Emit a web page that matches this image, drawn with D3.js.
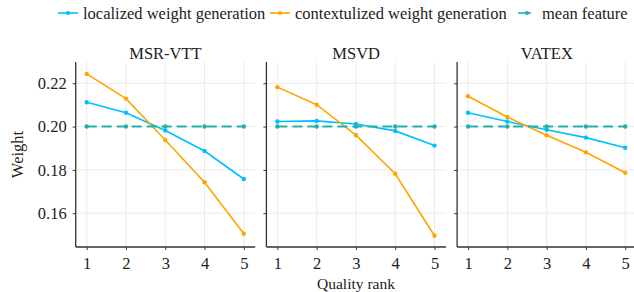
<!DOCTYPE html>
<html>
<head>
<meta charset="utf-8">
<script src="https://cdn.jsdelivr.net/npm/d3@7"></script>
<style>
  body { margin: 0; background: #fff; }
</style>
</head>
<body>
<div id="chart"></div>
<script>
// data
var datasets = ["MSR-VTT", "MSVD", "VATEX"];
var ranks = [1, 2, 3, 4, 5];
var seriesNames = ["localized weight generation", "contextulized weight generation", "mean feature"];
var localized = [
  [0.2112, 0.2064, 0.1982, 0.1887, 0.1758],
  [0.2023, 0.2026, 0.2012, 0.1980, 0.1912],
  [0.2064, 0.2023, 0.1985, 0.1949, 0.1902]
];
var contextual = [
  [0.2243, 0.2129, 0.1938, 0.1743, 0.1505],
  [0.2182, 0.2101, 0.1960, 0.1782, 0.1496],
  [0.2140, 0.2044, 0.1960, 0.1881, 0.1787]
];
var meanFeature = [
  [0.2, 0.2, 0.2, 0.2, 0.2],
  [0.2, 0.2, 0.2, 0.2, 0.2],
  [0.2, 0.2, 0.2, 0.2, 0.2]
];
var yTicks = [0.16, 0.18, 0.20, 0.22];

var FONT = "'Liberation Serif', 'Times New Roman', 'DejaVu Serif', serif";
var colors = ["#00BFFF", "#FFA500", "#20B2AA"];
var W = 634, H = 292;
var panelTop = 62, panelBottom = 247, panelW = 179.5, step = 190.7, left0 = 75.7;

var svg = d3.select("#chart").append("svg")
    .attr("width", W)
    .attr("height", H)
    .style("font-family", FONT);

var y = d3.scaleLinear().domain([0.1444, 0.2298]).range([panelBottom, panelTop]);

var allSeries = [localized, contextual, meanFeature];

datasets.forEach(function(name, p) {
    var x0 = left0 + p * step;
    var x = d3.scaleLinear().domain([0.72, 5.29]).range([x0, x0 + panelW]);
    var g = svg.append("g");

    // grid
    g.selectAll(".gx").data(ranks).enter().append("line")
        .attr("x1", function(d) { return x(d); }).attr("x2", function(d) { return x(d); })
        .attr("y1", panelTop).attr("y2", panelBottom)
        .attr("stroke", "#ebebeb").attr("stroke-width", 1);
    g.selectAll(".gy").data(yTicks).enter().append("line")
        .attr("x1", x0).attr("x2", x0 + panelW)
        .attr("y1", function(d) { return y(d); }).attr("y2", function(d) { return y(d); })
        .attr("stroke", "#ebebeb").attr("stroke-width", 1);

    // axes
    var xa = g.append("g").attr("transform", "translate(0," + panelBottom + ")")
        .call(d3.axisBottom(x).tickValues(ranks).tickSize(3).tickPadding(7).tickFormat(d3.format("d")));
    var ya = g.append("g").attr("transform", "translate(" + x0 + ",0)")
        .call(d3.axisLeft(y).tickValues(yTicks).tickSize(3).tickPadding(6)
            .tickFormat(p == 0 ? d3.format(".2f") : function() { return ""; }));
    [xa, ya].forEach(function(a) {
        a.attr("font-family", FONT).attr("font-size", 16.5);
        a.select(".domain").attr("stroke", "#333").attr("stroke-width", 1.3);
        a.selectAll(".tick line").attr("stroke", "#333");
        a.selectAll(".tick text").attr("fill", "#222");
    });
    xa.select(".domain").attr("d", "M" + x0 + ",0H" + (x0 + panelW));
    ya.select(".domain").attr("d", "M0," + panelTop + "V" + panelBottom);

    // title
    g.append("text").attr("x", x0 + panelW / 2).attr("y", 59)
        .attr("text-anchor", "middle").attr("font-size", 16.5).attr("fill", "#222").text(name);

    // lines
    var line = d3.line().x(function(d, i) { return x(ranks[i]); }).y(function(d) { return y(d); });
    allSeries.forEach(function(s, k) {
        var vals = s[p];
        g.append("path").attr("d", line(vals))
            .attr("fill", "none").attr("stroke", colors[k]).attr("stroke-width", k == 2 ? 1.9 : 1.6)
            .attr("stroke-dasharray", k == 2 ? "10 5" : null);
        g.selectAll(".pt" + k).data(vals).enter().append("circle")
            .attr("cx", function(d, i) { return x(ranks[i]); })
            .attr("cy", function(d) { return y(d); })
            .attr("r", 2.2).attr("fill", colors[k]);
    });
});

// axis titles
svg.append("text").attr("x", 356).attr("y", 288.5).attr("text-anchor", "middle")
    .attr("font-size", 15.5).attr("fill", "#222").text("Quality rank");
svg.append("text").attr("transform", "translate(23," + ((panelTop + panelBottom) / 2) + ") rotate(-90)")
    .attr("text-anchor", "middle").attr("font-size", 16.5).attr("fill", "#222").text("Weight");

// legend
var legX = [58, 270, 518];
var legW = [20, 20, 13];
seriesNames.forEach(function(s, k) {
    var lg = svg.append("g").attr("transform", "translate(" + legX[k] + ",13)");
    lg.append("line").attr("x1", 0).attr("x2", legW[k]).attr("y1", 0).attr("y2", 0)
        .attr("stroke", colors[k]).attr("stroke-width", 1.6);
    lg.append("circle").attr("cx", k == 2 ? 9 : 10).attr("cy", 0).attr("r", 2).attr("fill", colors[k]);
    lg.append("text").attr("x", k == 2 ? 24 : 25).attr("y", 5.5).attr("font-size", 16.5)
        .attr("fill", "#222").text(s);
});
</script>
</body>
</html>
